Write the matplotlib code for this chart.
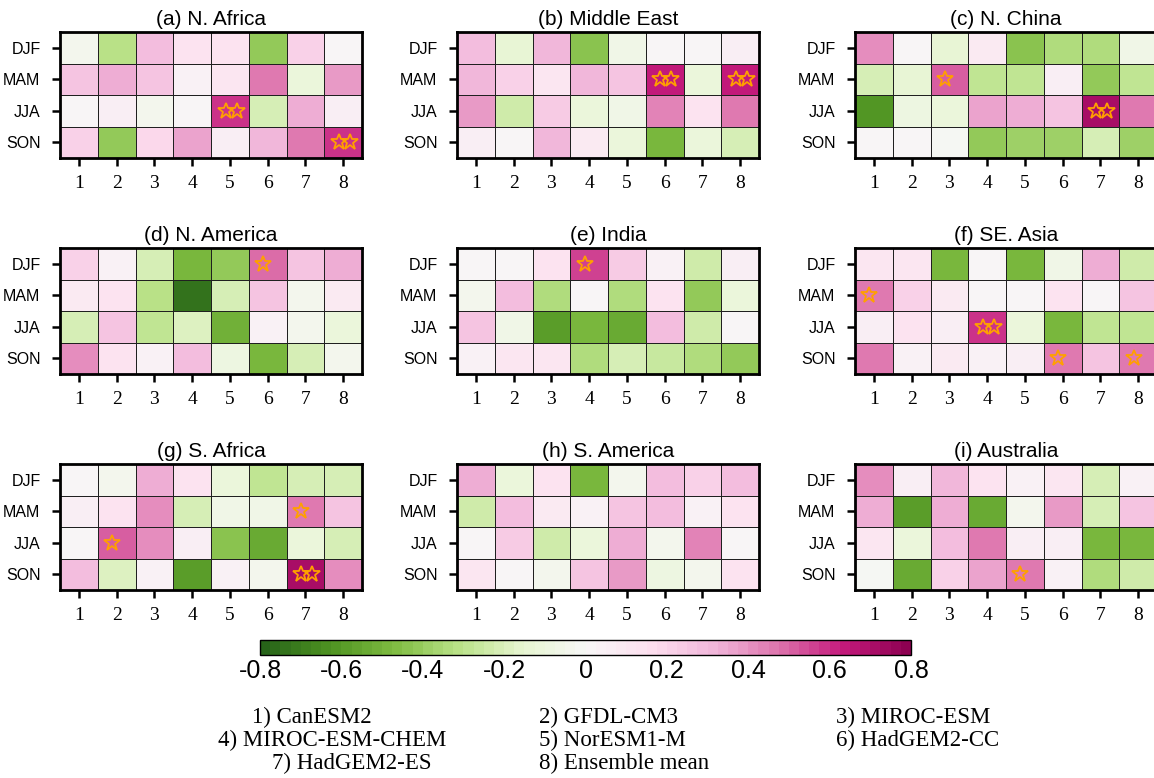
import numpy as np
import matplotlib.pyplot as plt
from matplotlib.colors import ListedColormap, BoundaryNorm

seasons = ['DJF', 'MAM', 'JJA', 'SON']
model_ticks = ['1', '2', '3', '4', '5', '6', '7', '8']
titles = ['(a) N. Africa', '(b) Middle East', '(c) N. China',
          '(d) N. America', '(e) India', '(f) SE. Asia',
          '(g) S. Africa', '(h) S. America', '(i) Australia']

# correlation per season (rows) and model (cols)
n_africa = [[-0.05, -0.32, 0.30, 0.15, 0.13, -0.42, 0.20, 0.02],
            [0.25, 0.35, 0.25, 0.03, 0.10, 0.45, -0.10, 0.38],
            [0.01, 0.07, -0.05, 0.01, 0.60, -0.20, 0.35, 0.07],
            [0.22, -0.42, 0.18, 0.37, 0.06, 0.32, 0.47, 0.60]]
middle_east = [[0.28, -0.14, 0.32, -0.45, -0.07, 0.00, 0.00, 0.07],
               [0.32, 0.20, 0.12, 0.32, 0.25, 0.65, -0.12, 0.65],
               [0.38, -0.25, 0.24, -0.10, -0.06, 0.43, 0.15, 0.47],
               [0.06, 0.00, 0.32, 0.08, -0.12, -0.50, -0.10, -0.20]]
n_china = [[0.42, 0.00, -0.14, 0.08, -0.45, -0.35, -0.35, -0.06],
           [-0.20, -0.14, 0.52, -0.30, -0.30, 0.07, -0.42, -0.30],
           [-0.62, -0.08, -0.10, 0.37, 0.33, 0.25, 0.72, 0.45],
           [0.00, 0.00, -0.02, -0.42, -0.38, -0.38, -0.22, -0.38]]
n_america = [[0.22, 0.04, -0.22, -0.50, -0.42, 0.48, 0.25, 0.35],
             [0.08, 0.15, -0.32, -0.75, -0.22, 0.25, -0.04, 0.08],
             [-0.20, 0.25, -0.30, -0.18, -0.52, 0.05, -0.04, -0.10],
             [0.42, 0.14, 0.03, 0.30, -0.08, -0.50, -0.20, -0.05]]
india = [[0.00, 0.00, 0.14, 0.55, 0.23, 0.03, -0.25, 0.07],
         [-0.05, 0.30, -0.35, 0.00, -0.35, 0.13, -0.42, -0.10],
         [0.27, -0.06, -0.58, -0.48, -0.55, 0.30, -0.25, 0.00],
         [0.03, 0.10, 0.10, -0.33, -0.20, -0.27, -0.35, -0.42]]
se_asia = [[0.10, 0.10, -0.48, 0.00, -0.50, -0.06, 0.35, -0.25],
           [0.46, 0.20, 0.08, 0.02, 0.00, 0.13, 0.00, 0.25],
           [0.06, 0.13, 0.06, 0.60, -0.12, -0.50, -0.28, -0.28],
           [0.45, 0.05, 0.08, 0.05, 0.06, 0.47, 0.25, 0.47]]
s_africa = [[0.00, -0.03, 0.35, 0.14, -0.10, -0.30, -0.20, -0.20],
            [0.07, 0.15, 0.42, -0.20, -0.06, -0.06, 0.46, 0.27],
            [0.01, 0.52, 0.42, 0.07, -0.45, -0.55, -0.10, -0.20],
            [0.30, -0.18, 0.03, -0.60, 0.04, -0.05, 0.72, 0.42]]
s_america = [[0.35, -0.12, 0.14, -0.50, -0.04, 0.30, 0.22, 0.30],
             [-0.25, 0.28, 0.08, 0.05, 0.25, 0.30, 0.04, 0.13],
             [0.00, 0.24, -0.24, -0.10, 0.33, -0.04, 0.43, 0.00],
             [0.10, 0.00, -0.03, 0.25, 0.40, -0.08, -0.04, 0.14]]
australia = [[0.42, 0.07, 0.32, 0.14, 0.05, 0.10, -0.20, 0.05],
             [0.35, -0.58, 0.35, -0.55, -0.04, 0.40, -0.20, 0.25],
             [0.12, -0.10, 0.30, 0.45, 0.06, 0.07, -0.50, -0.50],
             [-0.01, -0.55, 0.20, 0.37, 0.47, 0.05, -0.35, -0.25]]

# significance: (season index, model index, number of stars)
n_africa_sig = [(2, 4, 2), (3, 7, 2)]
middle_east_sig = [(1, 5, 2), (1, 7, 2)]
n_china_sig = [(1, 2, 1), (2, 6, 2)]
n_america_sig = [(0, 5, 1)]
india_sig = [(0, 3, 1)]
se_asia_sig = [(1, 0, 1), (2, 3, 2), (3, 5, 1), (3, 7, 1)]
s_africa_sig = [(1, 6, 1), (2, 1, 1), (3, 6, 2)]
s_america_sig = []
australia_sig = [(3, 4, 1)]

legend_col1 = ['1) CanESM2', '4) MIROC-ESM-CHEM', '7) HadGEM2-ES']
legend_col2 = ['2) GFDL-CM3', '5) NorESM1-M', '8) Ensemble mean']
legend_col3 = ['3) MIROC-ESM', '6) HadGEM2-CC']

regions = [n_africa, middle_east, n_china, n_america, india, se_asia,
           s_africa, s_america, australia]
sigs = [n_africa_sig, middle_east_sig, n_china_sig, n_america_sig, india_sig,
        se_asia_sig, s_africa_sig, s_america_sig, australia_sig]

W, H = 1154, 778
fig = plt.figure(figsize=(W / 100, H / 100), dpi=100)

levels = np.linspace(-0.8, 0.8, 65)
cmap = ListedColormap(plt.get_cmap('PiYG_r')(np.linspace(0, 1, 64)))
norm = BoundaryNorm(levels, cmap.N)

col_x = [60, 457, 855]
row_y = [32, 248, 464]
aw, ah = 302, 126

for k in range(9):
    r, c = divmod(k, 3)
    ax = fig.add_axes([col_x[c] / W, 1 - (row_y[r] + ah) / H, aw / W, ah / H])
    data = np.array(regions[k])
    mesh = ax.pcolormesh(np.arange(9) + 0.5, np.arange(5) - 0.5, data,
                         cmap=cmap, norm=norm, edgecolors='#202020', linewidth=0.7)
    for (i, j, n) in sigs[k]:
        if n == 1:
            xs = [j + 1 - 0.12]
        else:
            xs = [j + 1 - 0.11, j + 1 + 0.18]
        ax.plot(xs, [i] * len(xs), linestyle='none', marker='*', ms=12,
                mfc='none', mec='#ffa000', mew=1.3)
    ax.set_xlim(0.5, 8.5)
    ax.set_ylim(3.5, -0.5)
    ax.set_xticks(range(1, 9))
    ax.set_xticklabels(model_ticks, family='Liberation Serif', fontsize=14)
    ax.set_yticks(range(4))
    ax.set_yticklabels(seasons, family='Liberation Sans', fontsize=11.5)
    ax.tick_params(axis='x', length=6, width=1.8, pad=6)
    ax.tick_params(axis='y', length=6, width=1.8, pad=8)
    for s in ax.spines.values():
        s.set_linewidth(2)
    ax.set_title(titles[k], family='Liberation Sans', fontsize=15, pad=5)

cax = fig.add_axes([260 / W, 1 - 655 / H, 651 / W, 15 / H])
cb = fig.colorbar(mesh, cax=cax, orientation='horizontal', ticks=np.arange(-0.8, 0.81, 0.2))
cb.set_ticklabels(['-0.8', '-0.6', '-0.4', '-0.2', '0', '0.2', '0.4', '0.6', '0.8'])
cb.minorticks_off()
cb.outline.set_linewidth(1)
cax.tick_params(which='both', length=0, pad=3)
for t in cax.get_xticklabels():
    t.set_family(['Liberation Sans Narrow', 'Liberation Sans'])
    t.set_fontsize(18)

ys = [717, 740, 763]
col1_x = [252, 218, 272]
for i, s in enumerate(legend_col1):
    fig.text(col1_x[i] / W, 1 - ys[i] / H, s, ha='left', va='center',
             family='Liberation Serif', fontsize=16.5)
for i, s in enumerate(legend_col2):
    fig.text(539 / W, 1 - ys[i] / H, s, ha='left', va='center',
             family='Liberation Serif', fontsize=16.5)
for i, s in enumerate(legend_col3):
    fig.text(836 / W, 1 - ys[i] / H, s, ha='left', va='center',
             family='Liberation Serif', fontsize=16.5)

fig.savefig('out.png', dpi=100)
